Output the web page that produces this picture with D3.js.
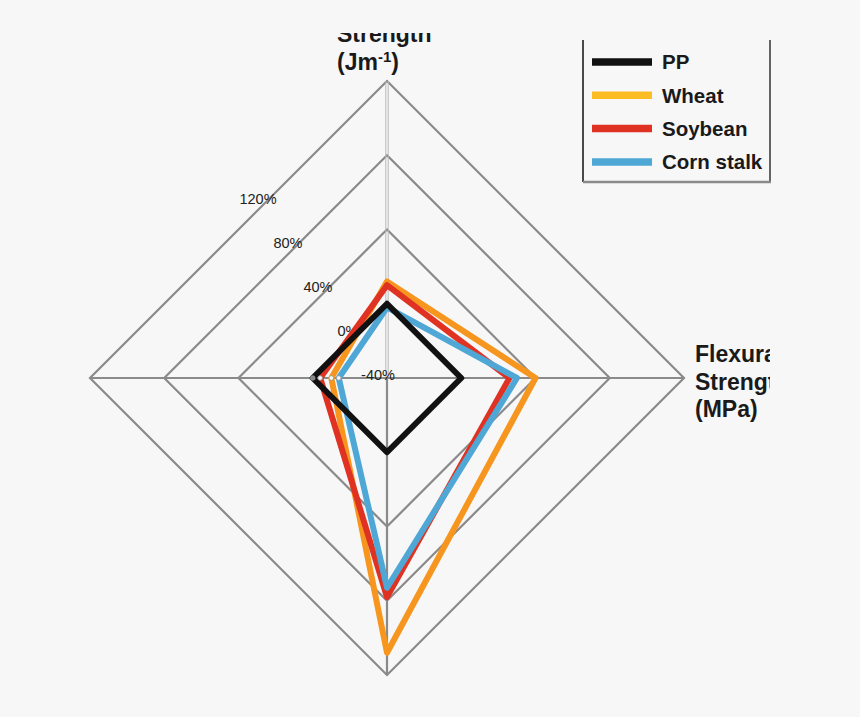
<!DOCTYPE html>
<html>
<head>
<meta charset="utf-8">
<script src="https://cdn.jsdelivr.net/npm/d3@7"></script>
<style>
  html, body { margin: 0; padding: 0; background: #f7f7f7; }
  svg { display: block; font-family: "Liberation Sans", Arial, sans-serif; }
</style>
</head>
<body>
<script>
// ---- data ----
const axesNames = ["Impact Strength", "Flexural Strength", "Axis 3", "Axis 4"];
const seriesNames = ["PP", "Wheat", "Soybean", "Corn stalk"];
const ppValues = [0, 0, 0, 0];
const wheatValues = [12, 40, 108, -10];
const soybeanValues = [10, 26, 78, -4];
const cornValues = [-2, 30, 73, -14];
const tickValues = [-40, 0, 40, 80, 120];
const tickLabels = ["-40%", "0%", "40%", "80%", "120%"];
const lineColors = ["#111111", "#F7961E", "#E03222", "#4FA7D6"];
const legendColors = ["#111111", "#FBBC24", "#E03222", "#4FA7D6"];

const W = 860, H = 717;
const cx = 387, cy = 378, R = 297;

const svg = d3.select("body").append("svg").attr("width", W).attr("height", H);
svg.append("rect").attr("width", W).attr("height", H).attr("fill", "#f7f7f7");

svg.append("defs").append("clipPath").attr("id", "clip")
  .append("rect").attr("x", 80).attr("y", 33).attr("width", 690).attr("height", 670);

const g = svg.append("g").attr("clip-path", "url(#clip)");

const r = d3.scaleLinear().domain([-40, 120]).range([0, R]);
const nAx = axesNames.length;
const ang = i => i * 2 * Math.PI / nAx;
const pt = (i, v) => [cx + r(v) * Math.sin(ang(i)), cy - r(v) * Math.cos(ang(i))];

// grid rings
const ringLine = d3.line();
tickValues.slice(1).forEach(t => {
  const pts = d3.range(nAx).map(i => pt(i, t));
  g.append("path").attr("d", ringLine(pts) + "Z")
    .attr("fill", "none").attr("stroke", "#8a8a8a").attr("stroke-width", 2.2);
});

// axis spokes
[-1.2, 1.2].forEach(dx => {
  g.append("line").attr("x1", cx + dx).attr("x2", cx + dx)
    .attr("y1", cy).attr("y2", pt(0, 120)[1])
    .attr("stroke", "#b8b8b8").attr("stroke-width", 1);
});
d3.range(1, nAx).forEach(i => {
  const p = pt(i, 120);
  g.append("line").attr("x1", cx).attr("y1", cy).attr("x2", p[0]).attr("y2", p[1])
    .attr("stroke", "#8a8a8a").attr("stroke-width", 2.2);
});

// tick labels
tickLabels.forEach((lab, i) => {
  g.append("text").attr("x", cx - 9 - 30 * i).attr("y", cy - 3 - 44 * i + 5)
    .attr("text-anchor", "middle").attr("font-size", 14.5).attr("fill", "#222")
    .text(lab);
});

// series
const seriesValues = [ppValues, wheatValues, soybeanValues, cornValues];
const drawOrder = [1, 2, 3, 0];
drawOrder.forEach(s => {
  const pts = seriesValues[s].map((v, i) => pt(i, v));
  g.append("path").attr("d", ringLine(pts) + "Z")
    .attr("fill", "none").attr("stroke", lineColors[s])
    .attr("stroke-width", 6).attr("stroke-linejoin", "round");
});

// small markers on left axis
drawOrder.forEach(s => {
  const p = pt(3, seriesValues[s][3]);
  g.append("circle").attr("cx", p[0]).attr("cy", p[1]).attr("r", 2.3)
    .attr("fill", s === 0 ? "#888" : "#f7f7f7").attr("stroke", "#999").attr("stroke-width", 0.8);
});

// axis labels (visible parts)
const topLab = g.append("text").attr("x", 337).attr("font-size", 23).attr("font-weight", "bold").attr("fill", "#1a1a1a");
topLab.append("tspan").attr("x", 337).attr("y", 42).text("Strength");
topLab.append("tspan").attr("x", 337).attr("y", 70).text("(Jm");
topLab.append("tspan").attr("font-size", 15).attr("dy", -8).text("-1");
topLab.append("tspan").attr("dy", 8).text(")");

const rightLab = g.append("text").attr("font-size", 23).attr("font-weight", "bold").attr("fill", "#1a1a1a");
["Flexural", "Strength", "(MPa)"].forEach((t, k) => {
  rightLab.append("tspan").attr("x", 695).attr("y", 362 + 27.6 * k).text(t);
});

// legend
const lg = svg.append("g");
lg.append("line").attr("x1", 583).attr("x2", 583).attr("y1", 40).attr("y2", 182)
  .attr("stroke", "#111").attr("stroke-width", 1.5);
lg.append("line").attr("x1", 770).attr("x2", 770).attr("y1", 40).attr("y2", 182)
  .attr("stroke", "#333").attr("stroke-width", 1.5);
lg.append("line").attr("x1", 583).attr("x2", 771).attr("y1", 182).attr("y2", 182)
  .attr("stroke", "#8a8a8a").attr("stroke-width", 2.5);
seriesNames.forEach((name, k) => {
  const y = 62 + 33.3 * k;
  lg.append("line").attr("x1", 592).attr("x2", 652).attr("y1", y).attr("y2", y)
    .attr("stroke", legendColors[k]).attr("stroke-width", 7.5);
  lg.append("text").attr("x", 662).attr("y", y + 7.3).attr("font-size", 20.5)
    .attr("font-weight", "bold").attr("fill", "#1a1a1a").text(name);
});
</script>
</body>
</html>
